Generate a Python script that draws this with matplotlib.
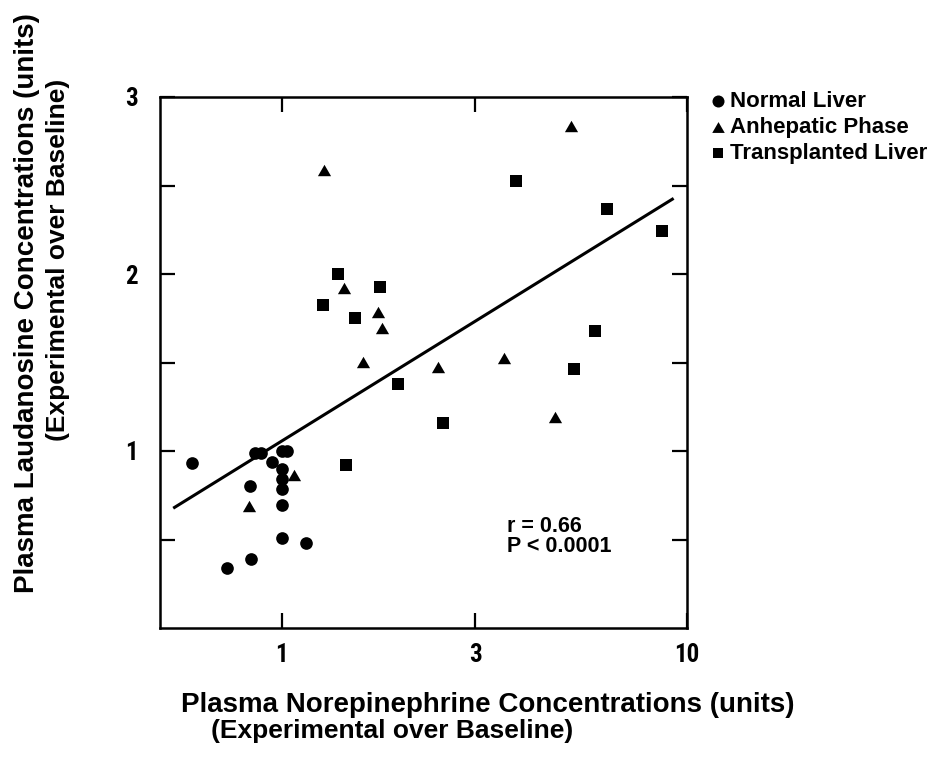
import matplotlib
matplotlib.use("Agg")
import matplotlib.pyplot as plt
import numpy as np
from matplotlib.ticker import FixedLocator, NullFormatter, FixedFormatter

# ---- data ----
normal_x = [0.60, 0.86, 0.89, 1.00, 1.03, 0.946, 1.00, 1.00, 1.00, 0.832, 1.00, 1.00, 1.148, 0.837, 0.732]
normal_y = [0.934, 0.99, 0.99, 1.00, 1.00, 0.937, 0.90, 0.843, 0.786, 0.80, 0.695, 0.506, 0.479, 0.388, 0.341]

anhep_x = [0.829, 1.071, 1.27, 1.424, 1.731, 1.765, 1.586, 2.424, 3.53, 4.71, 5.17]
anhep_y = [0.691, 0.865, 2.589, 1.922, 1.786, 1.695, 1.502, 1.473, 1.524, 1.193, 2.835]

trans_x = [1.378, 1.745, 1.265, 1.516, 1.937, 2.503, 1.438, 3.79, 6.33, 8.66, 5.94, 5.25]
trans_y = [1.998, 1.926, 1.824, 1.752, 1.38, 1.159, 0.919, 2.528, 2.368, 2.244, 1.68, 1.462]

fit_intercept = 1.057
fit_slope = 1.417
fit_x_range = [0.543, 9.2]

x_ticks = [1, 3, 10]
x_ticklabels = ["1", "3", "10"]
y_major = [1, 2, 3]
y_ticklabels = ["1", "2", "3"]
y_minor = [0.5, 1.5, 2.5]

labels = ["Normal Liver", "Anhepatic Phase", "Transplanted Liver"]

# ---- figure ----
W, H = 933, 758
fig = plt.figure(figsize=(W / 100, H / 100), dpi=100)
ax = fig.add_axes([160 / W, 1 - 628 / H, (687 - 160) / W, (628 - 97) / H])

BOLD = ["Liberation Sans", "DejaVu Sans"]
NARROW = ["Liberation Sans Narrow", "Roboto Condensed", "DejaVu Sans"]

tri = [(-1, -0.866), (1, -0.866), (0, 0.866)]

ax.scatter(normal_x, normal_y, marker="o", s=83, color="black", linewidths=0, label=labels[0], zorder=3)
ax.scatter(anhep_x, anhep_y, marker=tri, s=90, color="black", linewidths=0, label=labels[1], zorder=3)
ax.scatter(trans_x, trans_y, marker="s", s=64, color="black", linewidths=0, label=labels[2], zorder=3)

fx = np.geomspace(fit_x_range[0], fit_x_range[1], 50)
fy = fit_intercept + fit_slope * np.log10(fx)
ax.plot(fx, fy, color="black", lw=2.2, zorder=2)

ax.set_xscale("log")
ax.set_xlim(0.5, 10)
ax.set_ylim(0, 3)

ax.xaxis.set_major_locator(FixedLocator(x_ticks))
ax.xaxis.set_major_formatter(FixedFormatter(x_ticklabels))
ax.xaxis.set_minor_locator(FixedLocator([]))
ax.xaxis.set_minor_formatter(NullFormatter())
ax.yaxis.set_major_locator(FixedLocator(y_major))
ax.yaxis.set_major_formatter(FixedFormatter(y_ticklabels))
ax.yaxis.set_minor_locator(FixedLocator(y_minor))

ax.tick_params(which="both", direction="in", length=11, width=1.6,
               top=True, right=True, bottom=True, left=True)
ax.tick_params(axis="x", pad=11)
ax.tick_params(axis="y", pad=16)
for lab in ax.get_xticklabels() + ax.get_yticklabels():
    lab.set_family(NARROW)
    lab.set_stretch("condensed")
    lab.set_fontweight("bold")
    lab.set_fontsize(18)

for sp in ax.spines.values():
    sp.set_linewidth(1.8)

ax.text(507 / W, 1 - 526 / H, "r = 0.66", transform=fig.transFigure, fontsize=15.5,
        fontweight="bold", family=BOLD, va="center", ha="left")
ax.text(507 / W, 1 - 546 / H, "P < 0.0001", transform=fig.transFigure, fontsize=15.5,
        fontweight="bold", family=BOLD, va="center", ha="left")

# axis labels
fig.text(488 / W, 1 - 705 / H, "Plasma Norepinephrine Concentrations (units)",
         fontsize=20, fontweight="bold", family=BOLD, ha="center", va="center")
fig.text(392 / W, 1 - 731 / H, "(Experimental over Baseline)",
         fontsize=19, fontweight="bold", family=BOLD, ha="center", va="center")
fig.text(27 / W, 1 - 303 / H, "Plasma Laudanosine Concentrations (units)",
         fontsize=20, fontweight="bold", family=BOLD, ha="center", va="center", rotation=90)
fig.text(58 / W, 1 - 260 / H, "(Experimental over Baseline)",
         fontsize=19, fontweight="bold", family=BOLD, ha="center", va="center", rotation=90)

leg = ax.legend(loc="upper left", bbox_to_anchor=(709 / W, 1 - 91 / H),
                bbox_transform=fig.transFigure, frameon=False,
                handletextpad=0.15, labelspacing=0.22, handlelength=0.8,
                borderaxespad=0, borderpad=0, markerscale=0.95,
                prop={"family": BOLD, "weight": "bold", "size": 16})

fig.savefig("out.png", dpi=100)
